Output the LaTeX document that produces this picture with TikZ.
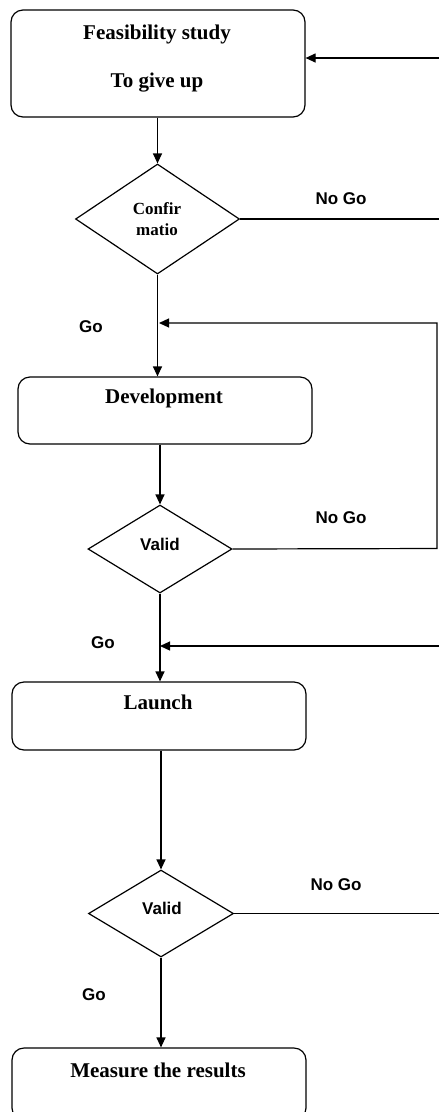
\documentclass[tikz,border=0pt]{standalone}
\usepackage{fontspec}
\setmainfont{Liberation Serif}
\newfontfamily\arialf{Liberation Sans}
\usetikzlibrary{shapes.geometric,arrows.meta}
\begin{document}
\begin{tikzpicture}[x=1pt,y=-1pt,
  line width=1.2pt,
  flowbox/.style={draw, rounded corners=12pt, minimum width=294pt, inner sep=0pt},
  dia/.style={draw, diamond, inner sep=0pt},
  boxtext/.style={font=\fontsize{21}{23}\selectfont\bfseries, inner sep=0pt},
  lab/.style={font=\arialf\fontsize{17}{19}\selectfont\bfseries, inner sep=0pt},
  arr/.style={-{Triangle[length=10pt,width=9pt]}}
]
\useasboundingbox (0,0) rectangle (439,1112);
\clip (0,0) rectangle (439,1112);

% boxes
\node[flowbox, minimum height=107pt] (b1) at (158,63.5) {};
\node[boxtext] (t1a) at (157,34) {Feasibility study};
\node[boxtext] (t1b) at (157,83) {To give up};

\node[flowbox, minimum height=67pt] (b2) at (165,410.5) {};
\node[boxtext] (t2) at (164,398) {Development};

\node[flowbox, minimum height=68pt] (b3) at (159,716) {};
\node[boxtext] (t3) at (158,702) {Launch};

\node[flowbox, minimum height=72pt] (b4) at (159,1084) {};
\node[boxtext] (t4) at (158,1070) {Measure the results};

% diamonds
\node[dia, minimum width=164pt, minimum height=110pt] (d1) at (157.5,219) {};
\node[font=\fontsize{17}{21}\selectfont\bfseries, inner sep=0pt, align=center] (td1) at (157,219) {Confir\\matio};

\node[dia, minimum width=144pt, minimum height=88pt] (d2) at (160,549) {};
\node[lab] (td2) at (160,544) {Valid};

\node[dia, minimum width=145pt, minimum height=87pt] (d3) at (161,913.5) {};
\node[lab] (td3) at (162,908) {Valid};

% edge coordinates
\coordinate (e1) at (441,58);
\coordinate (e2) at (441,219);
\coordinate (r1) at (437,323);
\coordinate (r2) at (437,548.5);
\coordinate (j1) at (159,323);
\coordinate (e3) at (441,646);
\coordinate (j2) at (160,646);
\coordinate (e4) at (441,913.5);

% main flow
\draw[arr] (b1.south -| d1.north) -- (d1.north);
\draw[arr] (d1.south) -- (d1.south |- b2.north);
\draw[arr] (d2.north |- b2.south) -- (d2.north);
\draw[arr] (d2.south) -- (d2.south |- b3.north);
\draw[arr] (d3.north |- b3.south) -- (d3.north);
\draw[arr] (d3.south) -- (d3.south |- b4.north);

% feedback lines
\draw[arr] (e1) -- (e1 -| b1.east);
\draw (d1.east) -- (e2);
\draw[arr] (d2.east) -- (r2) -- (r1) -- (j1);
\draw[arr] (e3) -- (j2);
\draw (d3.east) -- (e4);

% labels
\node[lab] (ng1) at (341,199) {No Go};
\node[lab] (ng2) at (341,518) {No Go};
\node[lab] (ng3) at (336,885) {No Go};
\node[lab] (g1) at (91,327) {Go};
\node[lab] (g2) at (103,643) {Go};
\node[lab] (g3) at (94,995) {Go};
\end{tikzpicture}
\end{document}
